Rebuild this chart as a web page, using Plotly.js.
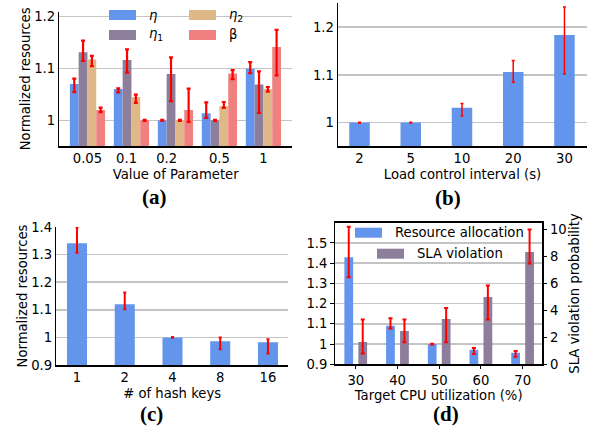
<!DOCTYPE html>
<html>
<head>
<meta charset="utf-8">
<script src="https://cdn.plot.ly/plotly-3.0.1.min.js"></script>
<style>html,body{margin:0;padding:0;background:#fff;}#chart{width:590px;height:431px;}</style>
</head>
<body>
<div id="chart"></div>
<script>
// ---------- Data ----------
// (a) parameter sensitivity
const paramLabels = ['0.05', '0.1', '0.2', '0.5', '1'];
const etaVals    = [1.070, 1.060, 1.000, 1.0135, 1.099];
const etaPlus    = [0.010, 0.0015, 0.001, 0.021, 0.013];
const etaMinus   = [0.016, 0.0064, 0.001, 0.009, 0.0083];
const eta1Vals   = [1.131, 1.116, 1.089, 1.000, 1.069];
const eta1Plus   = [0.022, 0.0205, 0.032, 0.001, 0.025];
const eta1Minus  = [0.017, 0.0245, 0.052, 0.001, 0.0546];
const eta2Vals   = [1.117, 1.045, 1.000, 1.0275, 1.060];
const eta2Plus   = [0.007, 0.0044, 0.001, 0.0077, 0.004];
const eta2Minus  = [0.013, 0.0115, 0.001, 0.0038, 0.005];
const betaVals   = [1.020, 1.000, 1.020, 1.090, 1.141];
const betaPlus   = [0.0044, 0.001, 0.041, 0.0063, 0.033];
const betaMinus  = [0.0044, 0.001, 0.023, 0.011, 0.0545];

// (b) load control interval
const intervalLabels = ['2', '5', '10', '20', '30'];
const intervalVals   = [1.000, 1.000, 1.031, 1.106, 1.1835];
const intervalPlus   = [0.0007, 0.0007, 0.009, 0.024, 0.059];
const intervalMinus  = [0.0007, 0.0007, 0.017, 0.0215, 0.0816];

// (c) number of hash keys
const hashLabels = ['1', '2', '4', '8', '16'];
const hashVals   = [1.341, 1.120, 1.000, 0.986, 0.982];
const hashPlus   = [0.058, 0.043, 0.001, 0.014, 0.011];
const hashMinus  = [0.034, 0.018, 0.001, 0.029, 0.040];

// (d) target CPU utilization
const cpuLabels  = ['30', '40', '50', '60', '70'];
const resVals    = [1.429, 1.090, 1.000, 0.972, 0.957];
const resPlus    = [0.151, 0.038, 0.002, 0.008, 0.009];
const resMinus   = [0.099, 0.013, 0.002, 0.021, 0.020];
const slaVals    = [1.65, 2.47, 3.36, 4.99, 8.32];
const slaPlus    = [1.68, 0.86, 0.81, 0.86, 1.68];
const slaMinus   = [0.84, 0.84, 1.73, 1.66, 0.84];

// ---------- Style ----------
const W = 590, H = 431;
const px = v => v / W;
const py = v => 1 - v / H;
const BLUE = '#6495ed', PURPLE = '#8d7e9c', TAN = '#deb887', PINK = '#f08080', RED = '#ff0000';
const FONT = 'DejaVu Sans, sans-serif';
const FS = 13.2;
const GRID = '#c4c4c4';
const idx = arr => arr.map((_, i) => i);

function err(plus, minus, th, w) {
  return {type: 'data', symmetric: false, array: plus, arrayminus: minus,
          color: RED, thickness: th, width: w};
}

const traces = [
  // (a)
  {type: 'bar', x: idx(paramLabels), y: etaVals, name: 'η', marker: {color: BLUE},
   width: 0.2, offset: -0.4, error_y: err(etaPlus, etaMinus, 2.2, 2), xaxis: 'x', yaxis: 'y'},
  {type: 'bar', x: idx(paramLabels), y: eta1Vals, name: 'η1', marker: {color: PURPLE},
   width: 0.2, offset: -0.2, error_y: err(eta1Plus, eta1Minus, 2.2, 2), xaxis: 'x', yaxis: 'y'},
  {type: 'bar', x: idx(paramLabels), y: eta2Vals, name: 'η2', marker: {color: TAN},
   width: 0.2, offset: 0.0, error_y: err(eta2Plus, eta2Minus, 2.2, 2), xaxis: 'x', yaxis: 'y'},
  {type: 'bar', x: idx(paramLabels), y: betaVals, name: 'β', marker: {color: PINK},
   width: 0.2, offset: 0.2, error_y: err(betaPlus, betaMinus, 2.2, 2), xaxis: 'x', yaxis: 'y'},
  // (b)
  {type: 'bar', x: idx(intervalLabels), y: intervalVals, marker: {color: BLUE},
   width: 0.4, offset: -0.2, error_y: err(intervalPlus, intervalMinus, 1.5, 1.5), xaxis: 'x2', yaxis: 'y2'},
  // (c)
  {type: 'bar', x: idx(hashLabels), y: hashVals, marker: {color: BLUE},
   width: 0.42, offset: -0.21, error_y: err(hashPlus, hashMinus, 2, 1.5), xaxis: 'x3', yaxis: 'y3'},
  // (d)
  {type: 'bar', x: idx(cpuLabels), y: resVals, name: 'Resource allocation', marker: {color: BLUE},
   width: 0.21, offset: -0.275, error_y: err(resPlus, resMinus, 2, 2), xaxis: 'x4', yaxis: 'y4'},
  {type: 'bar', x: idx(cpuLabels), y: slaVals, name: 'SLA violation', marker: {color: PURPLE},
   width: 0.21, offset: 0.06, error_y: err(slaPlus, slaMinus, 2, 2), xaxis: 'x4', yaxis: 'y5'}
];

const baseAxis = {
  showline: true, linecolor: '#000', linewidth: 1.5, zeroline: false,
  tickfont: {family: FONT, size: FS, color: '#000'}, ticks: '', showgrid: false,
  fixedrange: true
};
const titleFont = {family: FONT, size: FS, color: '#000'};

function xax(domain, range, labels, tickpos, title, anchor, standoff, extra) {
  return Object.assign({}, baseAxis, {
    domain: domain, range: range, anchor: anchor,
    tickmode: 'array', tickvals: tickpos || idx(labels), ticktext: labels,
    title: {text: title, font: titleFont, standoff: standoff}
  }, extra || {});
}
function yax(domain, range, tv, tt, title, anchor, extra) {
  const ax = Object.assign({}, baseAxis, {
    domain: domain, range: range, anchor: anchor,
    tickmode: 'array', tickvals: tv, ticktext: tt,
    showgrid: true, gridcolor: GRID, gridwidth: 1.5
  }, extra || {});
  if (title) ax.title = {text: title, font: titleFont, standoff: 0};
  return ax;
}

const tickOut = {ticks: 'outside', ticklen: 3.5, tickwidth: 1, tickcolor: '#000'};

const layout = {
  width: W, height: H, margin: {l: 0, r: 0, t: 0, b: 0},
  paper_bgcolor: '#fff', plot_bgcolor: 'rgba(0,0,0,0)',
  showlegend: false, barmode: 'overlay',
  font: {family: FONT, size: FS, color: '#000'},
  xaxis:  xax([px(59.3), px(292)], [-0.64, 4.65], paramLabels, [0, 0.89, 1.8, 3, 4], 'Value of Parameter', 'y', 4),
  yaxis:  yax([py(146), py(11.7)], [0.9506, 1.2088], [1, 1.1, 1.2], ['1', '1.1', '1.2'], 'Normalized resources', 'x'),
  xaxis2: xax([px(338), px(587)], [-0.42, 4.44], intervalLabels, null, 'Load control interval (s)', 'y2', 4),
  yaxis2: yax([py(146), py(3.3)], [0.951, 1.25], [1, 1.1, 1.2], ['1', '1.1', '1.2'], null, 'x2'),
  xaxis3: xax([px(56.3), px(288)], [-0.434, 4.42], hashLabels, null, '# of hash keys', 'y3', 4),
  yaxis3: yax([py(365), py(227)], [0.9, 1.4], [0.9, 1, 1.1, 1.2, 1.3, 1.4], ['0.9', '1', '1.1', '1.2', '1.3', '1.4'], 'Normalized resources', 'x3'),
  xaxis4: xax([px(335), px(542.3)], [-0.5, 4.47], cpuLabels, null, 'Target CPU utilization (%)', 'y4', 1,
              Object.assign({mirror: true}, tickOut)),
  yaxis4: yax([py(364.3), py(222.7)], [0.9, 1.6], [0.9, 1, 1.1, 1.2, 1.3, 1.4, 1.5], ['0.9', '1', '1.1', '1.2', '1.3', '1.4', '1.5'], null, 'x4', tickOut),
  yaxis5: Object.assign({}, baseAxis, tickOut, {
    overlaying: 'y4', side: 'right', anchor: 'x4', range: [0, 10.5],
    tickmode: 'array', tickvals: [0, 2, 4, 6, 8, 10], ticktext: ['0', '2', '4', '6', '8', '10'],
    title: {text: 'SLA violation probability', font: titleFont, standoff: 3}
  }),
  shapes: [],
  annotations: []
};

// manual legends (matplotlib-like wide swatches)
function legendItem(x0, yc, color, label) {
  layout.shapes.push({type: 'rect', xref: 'paper', yref: 'paper',
    x0: px(x0), x1: px(x0 + 27), y0: py(yc + 5), y1: py(yc - 5),
    fillcolor: color, line: {width: 0}});
  layout.annotations.push({xref: 'paper', yref: 'paper', x: px(x0 + 38), y: py(yc),
    xanchor: 'left', yanchor: 'middle', text: label, showarrow: false,
    font: {family: FONT, size: FS, color: '#000'}});
}
legendItem(109, 15, BLUE, '<i>η</i>');
legendItem(109, 35, PURPLE, '<i>η</i><sub>1</sub>');
legendItem(189, 15, TAN, '<i>η</i><sub>2</sub>');
legendItem(189, 35, PINK, 'β');
legendItem(355, 232.7, BLUE, 'Resource allocation');
legendItem(377, 253.7, PURPLE, 'SLA violation');

// panel labels
[['(a)', 154, 197], ['(b)', 448.5, 197.5], ['(c)', 151, 414], ['(d)', 446, 414]].forEach(p => {
  layout.annotations.push({xref: 'paper', yref: 'paper', x: px(p[1]), y: py(p[2]),
    xanchor: 'center', yanchor: 'middle', text: '<b>' + p[0] + '</b>', showarrow: false,
    font: {family: 'Liberation Serif, serif', size: 21, color: '#000'}});
});

Plotly.newPlot('chart', traces, layout, {staticPlot: true, displayModeBar: false});
</script>
</body>
</html>
